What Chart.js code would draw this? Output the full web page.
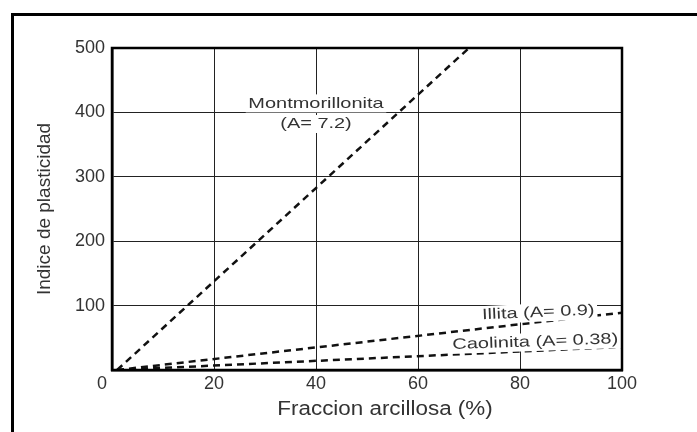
<!DOCTYPE html>
<html><head><meta charset="utf-8">
<script src="https://cdn.jsdelivr.net/npm/chart.js@4/dist/chart.umd.min.js"></script>
<style>
html,body{margin:0;padding:0;background:#fff;overflow:hidden;}
#wrap{position:relative;width:697px;height:432px;}
#frame{position:absolute;left:11px;top:13px;width:800px;height:500px;border-left:3px solid #000;border-top:3px solid #000;pointer-events:none;}
canvas{position:absolute;left:0;top:0;}
</style></head>
<body><div id="wrap"><canvas id="c" width="697" height="432"></canvas><div id="frame"></div></div>
<script>
// Data
const xTicks = [0, 20, 40, 60, 80, 100];
const yTicks = [0, 100, 200, 300, 400, 500];
const montX = [1, 70];
const montY = [0, 500];
const illitaX = [1, 100];
const illitaY = [0, 89];
const caolX = [1, 100];
const caolY = [0, 36];
const xTitle = 'Fraccion arcillosa (%)';
const yTitle = 'Indice de plasticidad';
// text annotations: [text, x, y, rotation(deg)]
const notes = [
  ['Montmorillonita', 40, 414, 0],
  ['(A= 7.2)', 40, 382, 0],
  ['Illita (A= 0.9)', 83.6, 89, -2.5],
  ['Caolinita (A= 0.38)', 83, 43.5, -2]
];

const pts = (xs, ys) => xs.map((x, i) => ({x: x, y: ys[i]}));
const ds = (xs, ys) => ({data: pts(xs, ys), showLine: true, borderColor: '#111', borderWidth: 2.5,
  borderDash: [7, 5], pointRadius: 0, fill: false, tension: 0});

const FONT = '"Liberation Sans", Arial, sans-serif';
const STRETCH = 1.33;

const decor = {
  id: 'decor',
  afterDatasetsDraw(chart) {
    const ctx = chart.ctx, a = chart.chartArea;
    const xs = chart.scales.x, ys = chart.scales.y;
    ctx.save();
    ctx.font = '15px ' + FONT;
    ctx.textAlign = 'center';
    ctx.textBaseline = 'middle';
    notes.forEach(n => {
      const px = xs.getPixelForValue(n[1]), py = ys.getPixelForValue(n[2]);
      ctx.save();
      ctx.translate(px, py);
      ctx.rotate(n[3] * Math.PI / 180);
      ctx.scale(STRETCH, 1);
      const w = ctx.measureText(n[0]).width;
      ctx.fillStyle = '#fff';
      ctx.fillRect(-w / 2 - 2, -9, w + 4, 18);
      ctx.fillStyle = '#333';
      ctx.fillText(n[0], 0, 0);
      ctx.restore();
    });
    ctx.strokeStyle = '#000';
    ctx.lineWidth = 2.5;
    ctx.strokeRect(a.left, a.top, a.right - a.left, a.bottom - a.top);
    // x axis title
    ctx.font = '20px ' + FONT;
    ctx.fillStyle = '#333';
    ctx.save();
    ctx.translate((a.left + a.right) / 2 + 18, 409);
    ctx.scale(1.12, 1);
    ctx.fillText(xTitle, 0, 0);
    ctx.restore();
    ctx.restore();
  }
};

new Chart(document.getElementById('c'), {
  type: 'scatter',
  data: { datasets: [ds(montX, montY), ds(illitaX, illitaY), ds(caolX, caolY)] },
  options: {
    responsive: false,
    animation: false,
    layout: { padding: { left: 30, right: 75, top: 48, bottom: 14 } },
    plugins: { legend: { display: false }, tooltip: { enabled: false } },
    scales: {
      x: {
        type: 'linear', min: 0, max: 100,
        afterBuildTicks: s => { s.ticks = xTicks.map(v => ({value: v})); },
        afterFit: s => { s.height = 48; },
        grid: { color: '#222', lineWidth: 1, drawTicks: false },
        border: { color: '#000', width: 2.5 },
        ticks: { color: '#333', font: { family: FONT, size: 18 }, padding: 3, maxRotation: 0,
          callback: v => v === 0 ? '0    ' : String(v) },
        title: { display: false, text: xTitle }
      },
      y: {
        type: 'linear', min: 0, max: 500,
        afterBuildTicks: s => { s.ticks = yTicks.map(v => ({value: v})); },
        afterFit: s => { s.width = 82; },
        grid: { color: '#222', lineWidth: 1, drawTicks: false },
        border: { color: '#000', width: 2.5 },
        ticks: { color: '#333', font: { family: FONT, size: 18 }, padding: 7,
          callback: v => v === 0 ? '' : String(v) },
        title: { display: true, text: yTitle, color: '#333', font: { family: FONT, size: 19 }, padding: { top: 3, bottom: 0 } }
      }
    }
  },
  plugins: [decor]
});
</script>
</body></html>
